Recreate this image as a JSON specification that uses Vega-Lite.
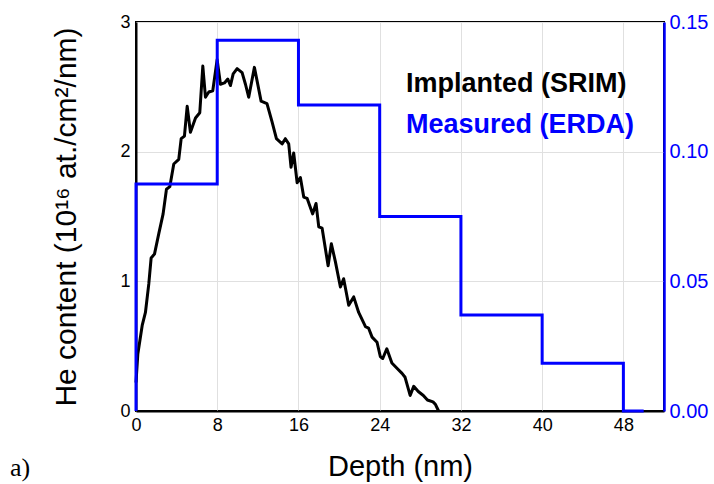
{
  "$schema": "https://vega.github.io/schema/vega-lite/v6.json",
  "width": 528,
  "height": 389,
  "autosize": {"type": "none"},
  "padding": {"left": 136, "top": 22, "right": 50, "bottom": 73},
  "background": "white",
  "config": {
    "font": "Liberation Sans",
    "view": {"stroke": "black", "strokeWidth": 2},
    "axis": {"labelFlush": false, "labelOverlap": false}
  },
  "title": {
    "text": "a)",
    "orient": "bottom",
    "anchor": "start",
    "frame": "group",
    "font": "Liberation Serif",
    "fontSize": 26,
    "fontWeight": "normal",
    "color": "black",
    "baseline": "alphabetic",
    "dx": -126,
    "offset": -5
  },
  "datasets": {
    "srim": [
      {"depth": 0, "content": 0.22}, {"depth": 0.18, "content": 0.44}, {"depth": 0.61, "content": 0.66},
      {"depth": 0.93, "content": 0.76}, {"depth": 1.26, "content": 0.98}, {"depth": 1.49, "content": 1.18},
      {"depth": 1.82, "content": 1.21}, {"depth": 2.25, "content": 1.37}, {"depth": 2.67, "content": 1.52},
      {"depth": 3.0, "content": 1.71}, {"depth": 3.33, "content": 1.73}, {"depth": 3.72, "content": 1.905},
      {"depth": 4.21, "content": 1.94}, {"depth": 4.45, "content": 2.1}, {"depth": 4.77, "content": 2.12},
      {"depth": 5.04, "content": 2.35}, {"depth": 5.36, "content": 2.15}, {"depth": 5.86, "content": 2.26},
      {"depth": 6.28, "content": 2.3}, {"depth": 6.58, "content": 2.66}, {"depth": 6.84, "content": 2.42},
      {"depth": 7.17, "content": 2.46}, {"depth": 7.56, "content": 2.47}, {"depth": 7.99, "content": 2.71},
      {"depth": 8.32, "content": 2.52}, {"depth": 8.71, "content": 2.53}, {"depth": 9.04, "content": 2.56},
      {"depth": 9.3, "content": 2.51}, {"depth": 9.57, "content": 2.6}, {"depth": 9.96, "content": 2.64},
      {"depth": 10.45, "content": 2.61}, {"depth": 10.78, "content": 2.52}, {"depth": 11.1, "content": 2.42},
      {"depth": 11.66, "content": 2.65}, {"depth": 12.32, "content": 2.39}, {"depth": 12.9, "content": 2.37},
      {"depth": 13.4, "content": 2.23}, {"depth": 13.83, "content": 2.1}, {"depth": 14.39, "content": 2.06},
      {"depth": 14.71, "content": 2.1}, {"depth": 15.04, "content": 2.06}, {"depth": 15.27, "content": 1.88},
      {"depth": 15.53, "content": 1.99}, {"depth": 15.87, "content": 1.76}, {"depth": 16.19, "content": 1.8},
      {"depth": 16.52, "content": 1.65}, {"depth": 16.85, "content": 1.64}, {"depth": 17.4, "content": 1.52},
      {"depth": 17.73, "content": 1.6}, {"depth": 18.0, "content": 1.42}, {"depth": 18.33, "content": 1.41},
      {"depth": 18.92, "content": 1.12}, {"depth": 19.24, "content": 1.29}, {"depth": 19.64, "content": 1.15},
      {"depth": 20.13, "content": 0.956}, {"depth": 20.45, "content": 1.02}, {"depth": 20.95, "content": 0.815},
      {"depth": 21.44, "content": 0.88}, {"depth": 21.93, "content": 0.76}, {"depth": 22.6, "content": 0.65},
      {"depth": 22.9, "content": 0.64}, {"depth": 23.25, "content": 0.57}, {"depth": 23.74, "content": 0.53},
      {"depth": 24.06, "content": 0.42}, {"depth": 24.3, "content": 0.405}, {"depth": 24.7, "content": 0.48},
      {"depth": 25.2, "content": 0.37}, {"depth": 25.7, "content": 0.33}, {"depth": 26.2, "content": 0.29},
      {"depth": 26.5, "content": 0.26}, {"depth": 27.0, "content": 0.12}, {"depth": 27.35, "content": 0.19},
      {"depth": 27.8, "content": 0.15}, {"depth": 28.3, "content": 0.12}, {"depth": 28.7, "content": 0.085},
      {"depth": 29.25, "content": 0.07}, {"depth": 29.5, "content": 0.05}, {"depth": 29.8, "content": 0.0}
    ],
    "erda": [
      {"depth": 0, "content": 0},
      {"depth": 0, "content": 0.0875},
      {"depth": 8, "content": 0.143},
      {"depth": 16, "content": 0.118},
      {"depth": 24, "content": 0.075},
      {"depth": 32, "content": 0.037},
      {"depth": 40, "content": 0.0184},
      {"depth": 48, "content": 0},
      {"depth": 50, "content": 0}
    ]
  },
  "encoding": {
    "x": {
      "field": "depth",
      "type": "quantitative",
      "scale": {"domain": [0, 52], "nice": false, "zero": false},
      "axis": {
        "values": [0, 8, 16, 24, 32, 40, 48],
        "grid": true,
        "gridColor": "#e0e0e0",
        "gridWidth": 1,
        "ticks": false,
        "domainColor": "black",
        "domainWidth": 2,
        "labelFontSize": 18,
        "labelColor": "black",
        "labelPadding": 5,
        "title": "Depth (nm)",
        "titleFontSize": 29,
        "titleFontWeight": "normal",
        "titleColor": "black",
        "titlePadding": 18
      }
    }
  },
  "layer": [
    {
      "data": {"name": "srim"},
      "mark": {"type": "line", "strokeWidth": 3, "strokeJoin": "round"},
      "encoding": {
        "y": {
          "field": "content",
          "type": "quantitative",
          "scale": {"domain": [0, 3], "nice": false},
          "axis": {
            "orient": "left",
            "values": [0, 1, 2, 3],
            "grid": true,
            "gridColor": "#e0e0e0",
            "gridWidth": 1,
            "ticks": false,
            "domainColor": "black",
            "domainWidth": 2,
            "labelFontSize": 18,
            "labelColor": "black",
            "labelPadding": 6,
            "title": "He content (10¹⁶ at./cm²/nm)",
            "titleFontSize": 30,
            "titleFontWeight": "normal",
            "titleColor": "black",
            "titlePadding": 38
          }
        },
        "color": {
          "datum": "Implanted (SRIM)",
          "type": "nominal",
          "scale": {"domain": ["Implanted (SRIM)", "Measured (ERDA)"], "range": ["#000000", "#0000ff"]},
          "legend": {
            "orient": "none",
            "legendX": 243,
            "legendY": 48,
            "title": null,
            "padding": 0,
            "symbolSize": 0,
            "symbolStrokeWidth": 0,
            "symbolOpacity": 0,
            "labelOffset": 0,
            "labelFont": "Liberation Sans",
            "labelFontSize": 27,
            "labelFontWeight": "bold",
            "labelLimit": 400,
            "rowPadding": 13,
            "encode": {
              "labels": {
                "update": {
                  "fill": {"signal": "datum.value === 'Measured (ERDA)' ? '#0000ff' : '#000000'"}
                }
              }
            }
          }
        }
      }
    },
    {
      "data": {"name": "erda"},
      "mark": {"type": "line", "interpolate": "step-after", "strokeWidth": 3},
      "encoding": {
        "y": {
          "field": "content",
          "type": "quantitative",
          "scale": {"domain": [0, 0.15], "nice": false},
          "axis": {
            "orient": "right",
            "values": [0, 0.05, 0.1, 0.15],
            "format": ".2f",
            "grid": false,
            "ticks": false,
            "domainColor": "#0000ff",
            "domainWidth": 2.5,
            "labelFontSize": 20,
            "labelColor": "#0000ff",
            "labelPadding": 5,
            "title": null
          }
        },
        "color": {"datum": "Measured (ERDA)", "type": "nominal"}
      }
    }
  ],
  "resolve": {"scale": {"y": "independent"}, "axis": {"y": "independent"}}
}
